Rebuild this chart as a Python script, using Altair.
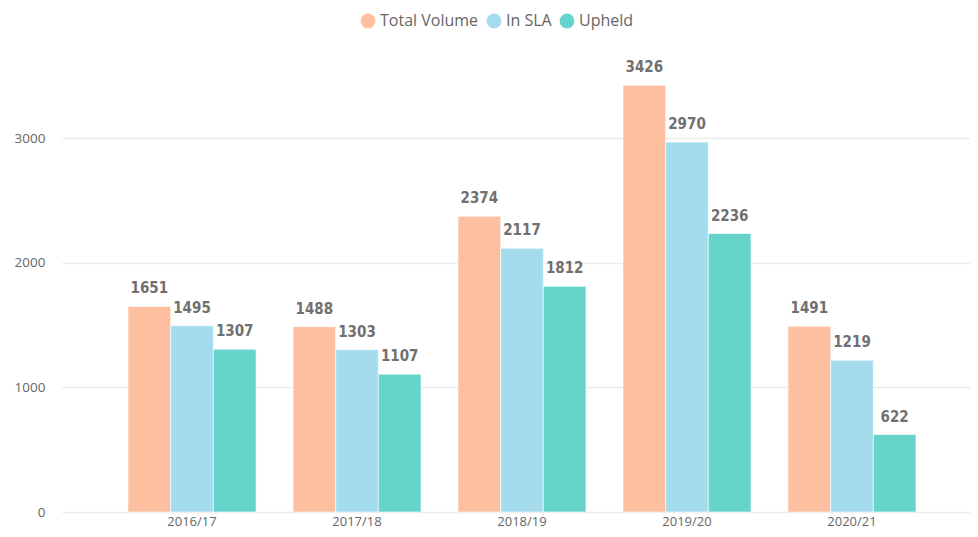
import altair as alt
import pandas as pd

years = ["2016/17", "2017/18", "2018/19", "2019/20", "2020/21"]
series = ["Total Volume", "In SLA", "Upheld"]
total_volume = [1651, 1488, 2374, 3426, 1491]
in_sla = [1495, 1303, 2117, 2970, 1219]
upheld = [1307, 1107, 1812, 2236, 622]
colors = ["#FDBFA0", "#A4DCEE", "#66D4CB"]
y_ticks = [0, 1000, 2000, 3000]

rows = []
for s, vals in zip(series, [total_volume, in_sla, upheld]):
    for y, v in zip(years, vals):
        rows.append({"Year": y, "Series": s, "Value": v})
df = pd.DataFrame(rows)

x = alt.X("Year:N", sort=years, title=None,
          scale=alt.Scale(paddingInner=0.224, paddingOuter=0.3636, align=0.55),
          axis=alt.Axis(labelAngle=0, domain=False, ticks=False, grid=False,
                        labelColor="#666666", labelFontSize=13, labelFont="Open Sans",
                        labelPadding=3))
y = alt.Y("Value:Q", title=None,
          scale=alt.Scale(domain=[0, 3790], nice=False),
          axis=alt.Axis(values=y_ticks, format="d", domain=False, ticks=False,
                        gridColor="#EBEBEB",
                        labelColor="#666666", labelFontSize=13.5, labelFont="Open Sans",
                        labelPadding=17))
xo = alt.XOffset("Series:N", sort=series)
color = alt.Color("Series:N", sort=series,
                  scale=alt.Scale(domain=series, range=colors),
                  legend=alt.Legend(title=None, orient="none", direction="horizontal",
                                    legendX=298, legendY=-27, symbolType="circle",
                                    symbolSize=220, symbolStrokeWidth=0, symbolOpacity=1,
                                    labelColor="#666666", labelFontSize=16,
                                    labelFont="Open Sans", labelOffset=4,
                                    columnPadding=7))

base = alt.Chart(df).encode(x=x, xOffset=xo)
bars = base.mark_bar(stroke="white", strokeWidth=0.6).encode(y=y, color=color)
labels = base.mark_text(baseline="bottom", dy=-10, font="DejaVu Sans Condensed",
                        fontWeight="bold", fontSize=15, color="#707070").encode(
    y=alt.Y("Value:Q"), text=alt.Text("Value:Q", format="d"))

chart = (bars + labels).properties(
    width=908, height=472,
    autosize=alt.AutoSizeParams(type="none"),
    padding={"left": 54, "top": 32, "right": 0, "bottom": 17},
).configure_view(stroke=None).configure_axis(gridWidth=1.5)

chart.save("out.html", embed_options={"renderer": "svg", "actions": False})
